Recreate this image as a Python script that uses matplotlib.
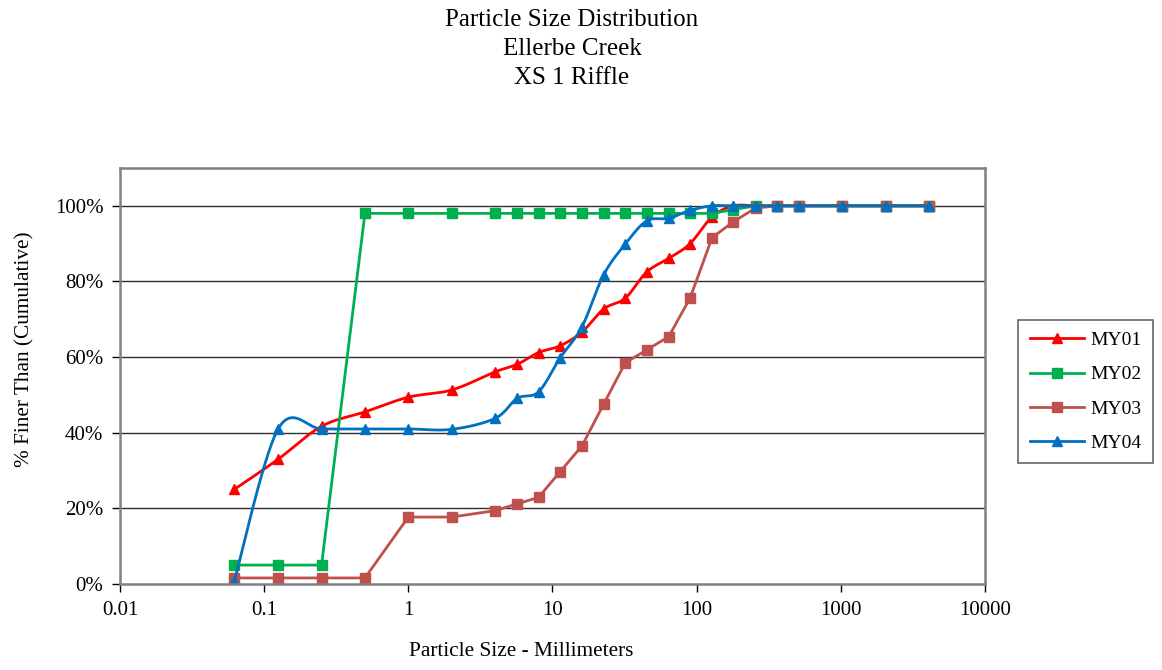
import numpy as np
import matplotlib
matplotlib.use("Agg")
import matplotlib.pyplot as plt
from matplotlib.lines import Line2D
from matplotlib.ticker import FixedLocator, FuncFormatter

plt.rcParams['font.family'] = ['Liberation Serif', 'DejaVu Serif']

sizes = [0.062, 0.125, 0.25, 0.5, 1, 2, 4, 5.7, 8, 11.3, 16, 22.6, 32, 45,
         64, 90, 128, 180, 256, 362, 512, 1024, 2048, 4096]
my01 = [25, 33, 41.7, 45.5, 49.4, 51.3, 56.1, 58.1, 61.2, 63, 66.6, 72.7,
        75.6, 82.5, 86.1, 90, 97.1, 100, 100, 100, 100, 100, 100, 100]
my02 = [5, 5, 5, 98, 98, 98, 98, 98, 98, 98, 98, 98, 98, 98, 98, 98, 98, 99,
        100, 100, 100, 100, 100, 100]
my03 = [1.6, 1.6, 1.6, 1.6, 17.7, 17.7, 19.4, 21.2, 22.9, 29.7, 36.5, 47.5,
        58.5, 61.9, 65.4, 75.6, 91.6, 95.8, 99.4, 100, 100, 100, 100, 100]
my04 = [0.7, 41, 41, 41, 41, 40.9, 43.8, 49.1, 50.8, 59.8, 68, 81.7, 89.9,
        96, 96.7, 98.8, 100, 100, 100, 100, 100, 100, 100, 100]

series_names = ['MY01', 'MY02', 'MY03', 'MY04']
series_vals = [my01, my02, my03, my04]
colors = ['#FF0000', '#00B050', '#C0504D', '#0070C0']
markers = ['^', 's', 's', '^']
msizes = [7.5, 6.5, 7.5, 7.5]
smooth = [True, False, False, True]

x_ticks = [0.01, 0.1, 1, 10, 100, 1000, 10000]
y_ticks = [0, 20, 40, 60, 80, 100]


def catmull_rom(xs, ys, n=30):
    u = np.log10(np.asarray(xs, float))
    y = np.asarray(ys, float)
    P = np.column_stack([u, y])
    out = []
    m = len(P)
    for i in range(m - 1):
        p0 = P[i - 1] if i > 0 else P[i]
        p1 = P[i]
        p2 = P[i + 1]
        p3 = P[i + 2] if i + 2 < m else P[i + 1]
        b1 = p1 + (p2 - p0) / 6.0
        b2 = p2 - (p3 - p1) / 6.0
        t = np.linspace(0, 1, n)[:, None]
        seg = ((1 - t) ** 3) * p1 + 3 * ((1 - t) ** 2) * t * b1 + \
            3 * (1 - t) * t ** 2 * b2 + t ** 3 * p2
        out.append(seg if i == 0 else seg[1:])
    pts = np.vstack(out)
    return 10 ** pts[:, 0], pts[:, 1]


fig = plt.figure(figsize=(11.62, 6.70), dpi=100)
ax = fig.add_axes([120 / 1162, 1 - 584 / 670, 865 / 1162, 416 / 670])

handles = []
for name, vals, c, mk, ms, sm in zip(series_names, series_vals, colors,
                                     markers, msizes, smooth):
    if sm:
        lx, ly = catmull_rom(sizes, vals)
    else:
        lx, ly = sizes, vals
    ax.plot(lx, ly, color=c, lw=2, solid_joinstyle='round')
    ax.plot(sizes, vals, linestyle='none', marker=mk, markersize=ms,
            color=c, markeredgecolor=c)
    handles.append(Line2D([], [], color=c, lw=2, marker=mk, markersize=ms,
                          markeredgecolor=c))

ax.set_xscale('log')
ax.set_xlim(0.01, 10000)
ax.set_ylim(0, 110)
ax.xaxis.set_major_locator(FixedLocator(x_ticks))
ax.xaxis.set_minor_locator(FixedLocator([]))
ax.xaxis.set_major_formatter(FuncFormatter(lambda v, p: '%g' % v))
ax.yaxis.set_major_locator(FixedLocator(y_ticks))
ax.yaxis.set_major_formatter(FuncFormatter(lambda v, p: '%d%%' % v))

for yv in y_ticks[1:]:
    ax.axhline(yv, color='#303030', lw=1, zorder=0.5)

for s in ax.spines.values():
    s.set_color('#808080')
    s.set_linewidth(1.8)

ax.tick_params(axis='both', direction='out', length=6, width=1,
               color='black', labelsize=15, pad=6)

ax.set_xlabel('Particle Size - Millimeters', fontsize=15.3)
ax.xaxis.set_label_coords(0.464, -0.14)
ax.set_ylabel('% Finer Than (Cumulative)', fontsize=15.3)
ax.yaxis.set_label_coords(-0.099, 0.565)

fig.text(572 / 1162, 1 - 49 / 670,
         'Particle Size Distribution\nEllerbe Creek\nXS 1 Riffle',
         ha='center', va='center', fontsize=18, linespacing=1.4)

leg = fig.legend(handles, series_names, loc='upper left',
                 bbox_to_anchor=(1018 / 1162, 1 - 320 / 670),
                 bbox_transform=fig.transFigure, borderaxespad=0,
                 fontsize=14, frameon=True, fancybox=False,
                 labelspacing=0.85, handlelength=2.8, handletextpad=0.3,
                 borderpad=0.6)
leg.get_frame().set_edgecolor('#404040')
leg.get_frame().set_linewidth(1.2)

fig.savefig('out.png', dpi=100)
